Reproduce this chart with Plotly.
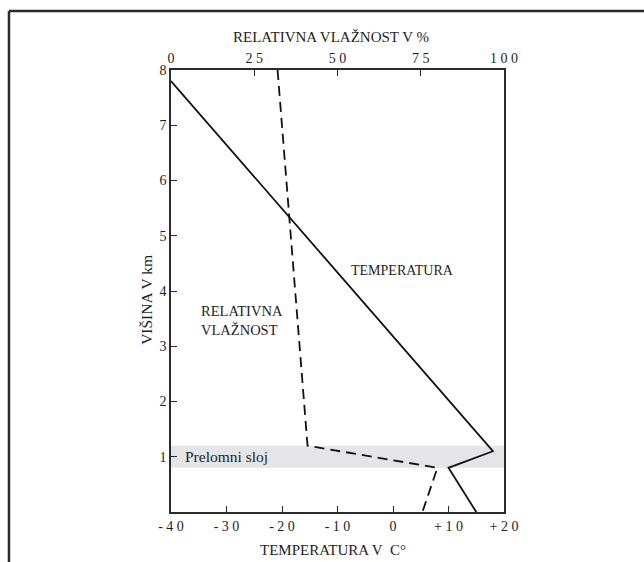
import plotly.graph_objects as go

# Temperature profile (°C) against height (km)
temp_c = [-40, 18, 10, 15]
temp_h = [7.8, 1.1, 0.8, 0.0]

# Relative humidity profile (%) against height (km)
rh_pct = [32, 41, 80, 75.5]
rh_h = [8.0, 1.2, 0.8, 0.0]

# Inversion layer bounds (km)
layer_bottom, layer_top = 0.8, 1.2

temp_ticks = [-40, -30, -20, -10, 0, 10, 20]
temp_ticktext = ["- 4 0", "- 3 0", "- 2 0", "- 1 0", "0", "+ 1 0", "+ 2 0"]
rh_ticks = [0, 25, 50, 75, 100]
rh_ticktext = ["0", "2 5", "5 0", "7 5", "1 0 0"]
h_ticks = [1, 2, 3, 4, 5, 6, 7, 8]
h_ticktext = ["1", "2", "3", "4", "5", "6", "7", "8"]

FONT = "Liberation Serif"
INK = "#1e1e1e"
AXIS = "#2b2b2b"

fig = go.Figure()

fig.add_trace(go.Scatter(
    x=temp_c, y=temp_h, mode="lines", xaxis="x", yaxis="y",
    line=dict(color="#111111", width=1.8), showlegend=False, hoverinfo="skip",
))
fig.add_trace(go.Scatter(
    x=rh_pct, y=rh_h, mode="lines", xaxis="x2", yaxis="y",
    line=dict(color="#111111", width=1.8, dash="10px,6px"), showlegend=False,
    hoverinfo="skip",
))

# shaded inversion layer
fig.add_shape(type="rect", xref="paper", yref="y", x0=0, x1=1,
              y0=layer_bottom, y1=layer_top, fillcolor="#e5e5e7",
              line=dict(width=0), layer="below")

# outer frame (top and left edges)
fig.add_shape(type="line", xref="paper", yref="paper",
              x0=-0.4865, x1=1.5, y0=1.1335, y1=1.1335,
              line=dict(color="#2a2a2a", width=2.5))
fig.add_shape(type="line", xref="paper", yref="paper",
              x0=-0.4865, x1=-0.4865, y0=1.1335, y1=-0.2,
              line=dict(color="#2a2a2a", width=2.5))

tickfont = dict(family=FONT, size=14, color=INK)

fig.update_layout(
    width=644, height=562,
    margin=dict(l=171, r=140, t=70, b=50),
    paper_bgcolor="white", plot_bgcolor="white",
    font=dict(family=FONT, color=INK),
    xaxis=dict(
        range=[-40, 20], tickmode="array", tickvals=temp_ticks, ticktext=temp_ticktext,
        ticks="inside", ticklen=6, tickwidth=1.2, tickcolor=AXIS,
        showline=True, linecolor=AXIS, linewidth=1.6, showgrid=False, zeroline=False,
        tickfont=tickfont, fixedrange=True,
    ),
    xaxis2=dict(
        range=[0, 100], overlaying="x", side="top", anchor="y",
        tickmode="array", tickvals=rh_ticks, ticktext=rh_ticktext,
        ticks="inside", ticklen=6, tickwidth=1.2, tickcolor=AXIS,
        showline=True, linecolor=AXIS, linewidth=1.6, showgrid=False, zeroline=False,
        tickfont=tickfont, fixedrange=True,
    ),
    yaxis=dict(
        range=[0, 8], tickmode="array", tickvals=h_ticks, ticktext=h_ticktext,
        ticks="inside", ticklen=6, tickwidth=1.2, tickcolor=AXIS,
        showline=True, mirror=True, linecolor=AXIS, linewidth=1.6,
        showgrid=False, zeroline=False, tickfont=tickfont, fixedrange=True,
    ),
)

title_font = dict(family=FONT, size=15, color=INK)
lab = dict(family=FONT, size=14, color=INK)

annotations = [
    dict(text="RELATIVNA VLAŽNOST V %", xref="paper", yref="paper", x=0.48, y=1.074,
         xanchor="center", yanchor="middle", showarrow=False, font=title_font),
    dict(text="TEMPERATURA V  C°", xref="paper", yref="paper", x=0.487, y=-0.086,
         xanchor="center", yanchor="middle", showarrow=False, font=title_font),
    dict(text="VIŠINA V km", xref="paper", yref="paper", x=-0.072, y=0.48,
         textangle=-90, xanchor="center", yanchor="middle", showarrow=False,
         font=dict(family=FONT, size=15.5, color=INK)),
    dict(text="TEMPERATURA", xref="x", yref="y", x=-7.9, y=4.38,
         xanchor="left", yanchor="middle", showarrow=False, font=lab),
    dict(text="RELATIVNA<br>VLAŽNOST", xref="x", yref="y", x=-34.95, y=3.46,
         xanchor="left", yanchor="middle", align="left", showarrow=False,
         font=dict(family=FONT, size=14.5, color=INK)),
    dict(text="Prelomni sloj", xref="x", yref="y", x=-37.8, y=1.0,
         xanchor="left", yanchor="middle", showarrow=False,
         font=dict(family=FONT, size=15.5, color=INK)),
]
fig.update_layout(annotations=annotations)

fig.write_html("out.html")
